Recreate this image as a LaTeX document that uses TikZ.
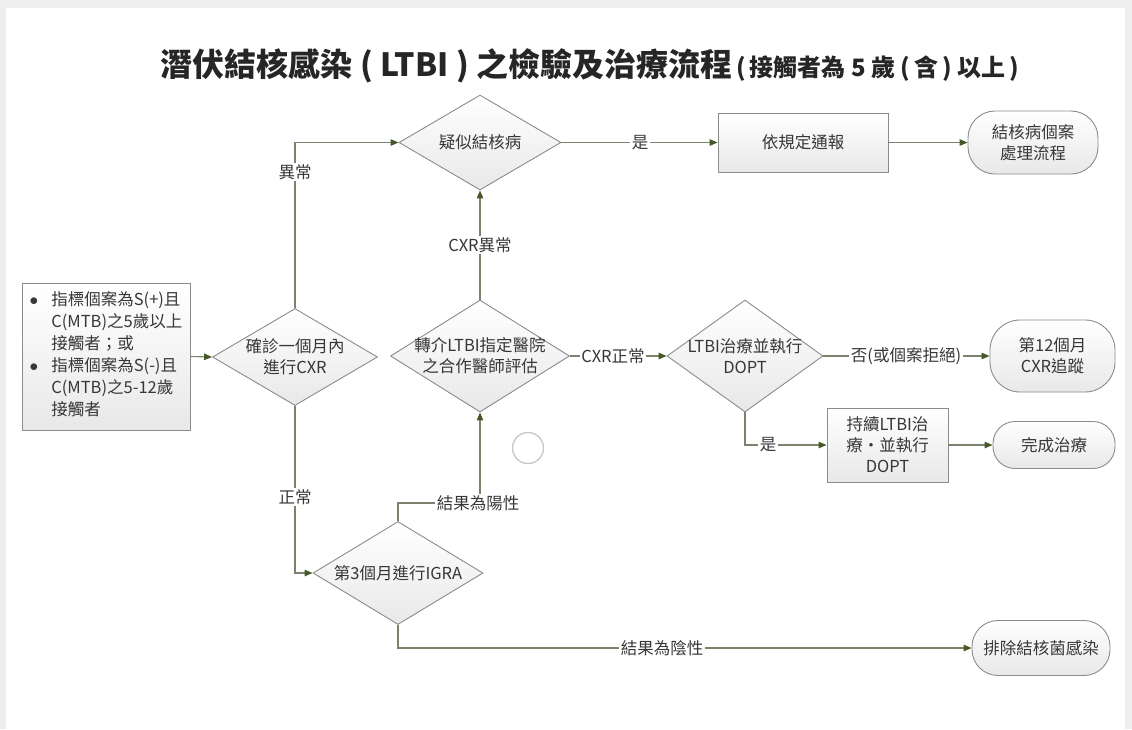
\documentclass[tikz,border=0pt]{standalone}
\usepackage{fontspec}
\setmainfont{Noto Sans CJK TC}
\usetikzlibrary{shapes.geometric,arrows.meta}
\definecolor{lc}{RGB}{125,130,110}
\definecolor{ac}{RGB}{70,88,40}
\definecolor{bc}{RGB}{140,140,140}
\definecolor{tc}{RGB}{55,55,55}
\definecolor{bgc}{RGB}{238,238,238}
\tikzset{
  base/.style={draw=bc, line width=0.9pt, top color=white, bottom color=black!9, inner sep=0pt, align=center},
  dia/.style={base, diamond},
  boxn/.style={base, rectangle},
  term/.style={base, rectangle, rounded corners=#1},
  txt/.style={align=center, inner sep=0pt},
  conn/.style={draw=lc, line width=1.1pt, -{Triangle[length=8pt,width=6.5pt,color=ac]}},
  lbl/.style={fill=white, inner sep=1.5pt}
}
\begin{document}
\begin{tikzpicture}[x=1pt,y=-1pt,font=\fontsize{16.5}{21}\selectfont,text=tc]
\useasboundingbox (0,0) rectangle (1132,729);
\fill[bgc] (0,0) rectangle (1132,729);
\fill[white] (6,8) rectangle (1125,729);

% title
\node[text=black!85] (title) at (590,66) {\fontsize{32}{35}\selectfont\bfseries 潛伏結核感染 ( LTBI ) 之檢驗及治療流程\hspace{4pt}\fontsize{24}{27}\selectfont (\,接觸者為 5 歲 (\,含\,) 以上\,)};

% nodes
\node[boxn, minimum width=168pt, minimum height=147pt] (src) at (106,356.5) {%
  \fontsize{16.5}{22}\selectfont
  \begin{tabular}{@{}l@{\hspace{13pt}}l@{}}
  $\bullet$ & 指標個案為S(+)且\\
    & C(MTB)之5歲以上\\
    & 接觸者；或\\
  $\bullet$ & 指標個案為S(-)且\\
    & C(MTB)之5-12歲\\
    & 接觸者
  \end{tabular}};

\node[dia, minimum width=165pt, minimum height=97pt] (d1) at (295,357) {};
\node[txt] (d1t) at (d1) {確診一個月內\\進行CXR};

\node[dia, minimum width=162pt, minimum height=95pt] (d2) at (480,142.5) {};
\node[txt] (d2t) at (d2) {疑似結核病};

\node[boxn, minimum width=170pt, minimum height=59pt] (b1) at (803,142.5) {依規定通報};
\node[term=27pt, minimum width=130pt, minimum height=63pt] (r1) at (1033,142.5) {結核病個案\\處理流程};

\node[dia, minimum width=179pt, minimum height=112pt] (d3) at (480,356) {};
\node[txt] (d3t) at (d3) {轉介LTBI指定醫院\\之合作醫師評估};

\node[dia, minimum width=156pt, minimum height=112pt] (d4) at (745,356) {};
\node[txt] (d4t) at (d4) {LTBI治療並執行\\DOPT};

\node[term=30pt, minimum width=125pt, minimum height=72pt] (r2) at (1052.5,356) {第12個月\\CXR追蹤};

\node[boxn, minimum width=121pt, minimum height=74pt] (b2) at (887.5,445) {持續LTBI治\\療・並執行\\DOPT};
\node[term=22pt, minimum width=122pt, minimum height=47pt] (r3) at (1054,445) {完成治療};

\node[dia, minimum width=170pt, minimum height=103pt] (d5) at (398,573) {};
\node[txt] (d5t) at (d5) {第3個月進行IGRA};

\node[term=26pt, minimum width=138pt, minimum height=55pt] (r4) at (1041,648) {排除結核菌感染};

\coordinate (kp) at (480,503);

% connectors
\draw[conn] (src.east) -- (d1.west);
\draw[conn] (d1.north) |- (d2.west);
\draw[conn] (d2.east) -- (b1.west);
\draw[conn] (b1.east) -- (r1.west);
\draw[conn] (d3.north) -- (d2.south);
\draw[conn] (d3.east) -- (d4.west);
\draw[conn] (d4.east) -- (r2.west);
\draw[conn] (d4.south) |- (b2.west);
\draw[conn] (b2.east) -- (r3.west);
\draw[conn] (d1.south) |- (d5.west);
\draw[conn] (d5.north) |- (kp) -- (d3.south);
\draw[conn] (d5.south) |- (r4.west);

% labels
\node[lbl] (l1) at (295,172) {異常};
\node[lbl] (l2) at (640,142.5) {是};
\node[lbl] (l3) at (480,245) {CXR異常};
\node[lbl] (l4) at (613,356) {CXR正常};
\node[lbl] (l5) at (906,356) {否(或個案拒絕)};
\node[lbl] (l6) at (768,445) {是};
\node[lbl] (l7) at (295,497) {正常};
\node[lbl] (l8) at (478,503) {結果為陽性};
\node[lbl] (l9) at (662,648) {結果為陰性};

% stray circle
\draw[black!22, line width=1.3pt] (528,448) circle[radius=15.5pt];
\end{tikzpicture}
\end{document}
